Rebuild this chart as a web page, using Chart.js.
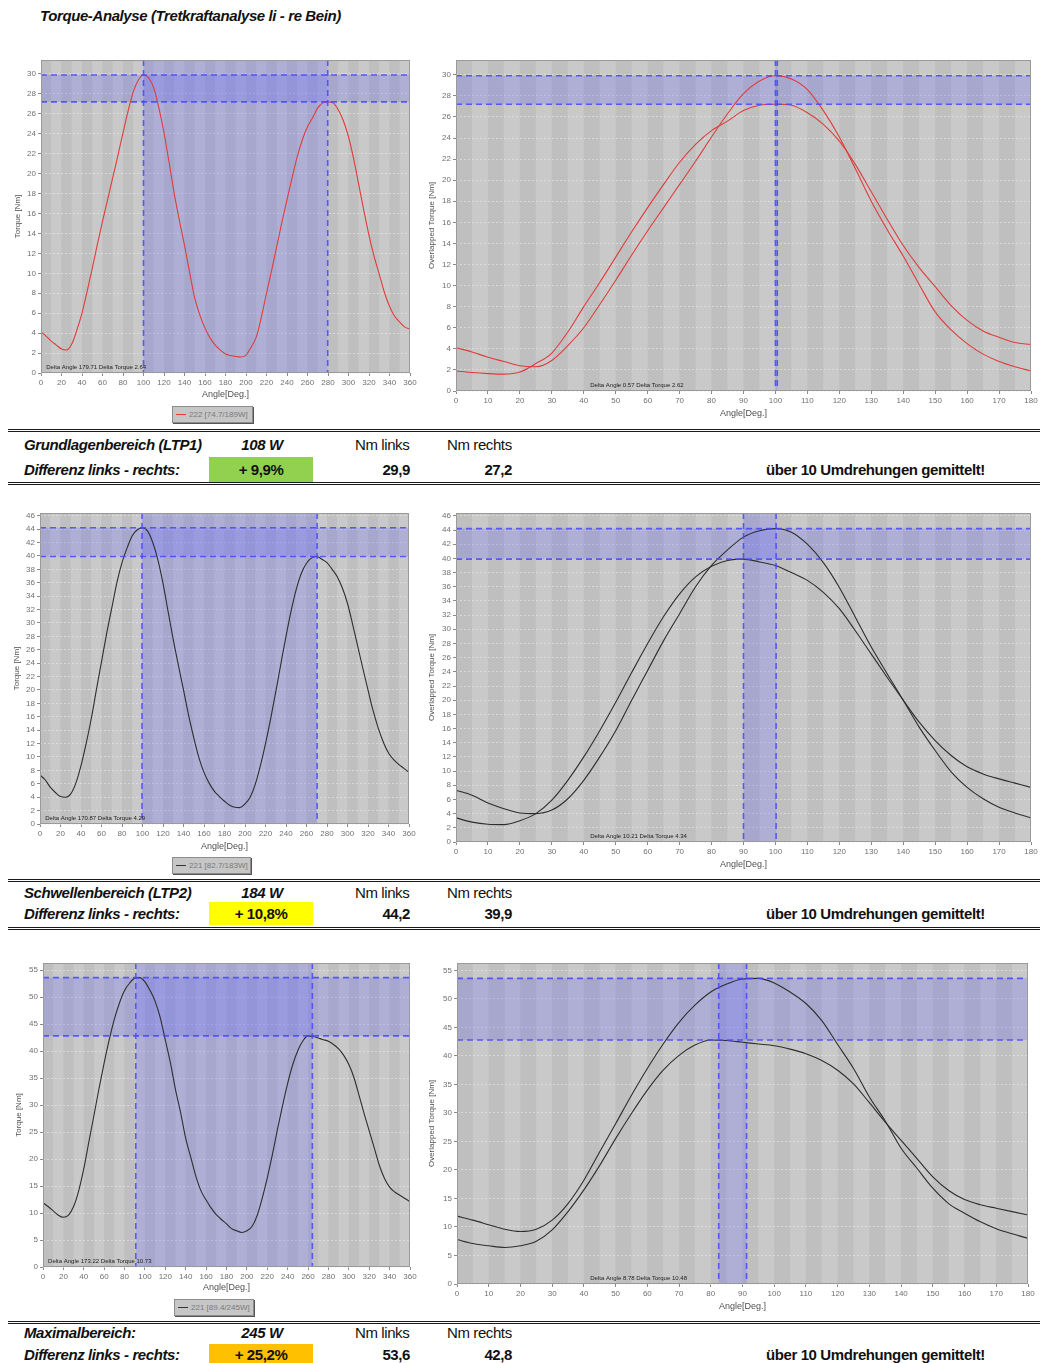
<!DOCTYPE html>
<html>
<head>
<meta charset="utf-8">
<script src="https://cdn.jsdelivr.net/npm/chart.js@4.4.1/dist/chart.umd.min.js"></script>
<style>
  body { margin: 0; background: #fff; width: 1040px; height: 1363px; position: relative; overflow: hidden;
         font-family: "Liberation Sans Narrow", "Liberation Sans", Arial, sans-serif; }
  canvas { position: absolute; }
  .t { position: absolute; white-space: nowrap; font-size: 15px; line-height: 20px; color: #111; letter-spacing: -0.4px; }
  .bi { font-weight: bold; font-style: italic; }
  .b { font-weight: bold; }
  .r { text-align: right; width: 70px; }
  .c { text-align: center; width: 100px; }
  .rule { position: absolute; left: 8px; width: 1032px; height: 0; border-top: 3px double #1a1a1a; }
  .box { position: absolute; left: 209px; width: 104px; text-align: center; font-weight: bold; font-size: 15px; color: #111; letter-spacing: -0.4px; }
  .lg { position: absolute; height: 15px; line-height: 15px; background: #c6c6c6; border: 1px solid #8c8c8c;
        box-shadow: 1px 1px 0 #555; font-family: "Liberation Sans", Arial, sans-serif; font-size: 8px; color: #7a7a7a;
        padding-left: 3px; box-sizing: content-box; white-space: nowrap; overflow: hidden; }
  .lg span { display: inline-block; width: 10px; height: 1px; vertical-align: middle; margin-right: 3px; }
</style>
</head>
<body>
<div class="t bi" style="left:40px;top:6px;">Torque-Analyse (Tretkraftanalyse li - re Bein)</div>

<div class="lg" style="left:172px;top:406px;width:76px;"><span style="background:#e03c3c"></span>222 [74.7/189W]</div>
<div class="lg" style="left:172px;top:857px;width:74px;"><span style="background:#333"></span>221 [82.7/183W]</div>
<div class="lg" style="left:174px;top:1299px;width:75px;"><span style="background:#333"></span>221 [89.4/245W]</div>

<!-- LTP1 -->
<div class="rule" style="top:429px;"></div>
<div class="t bi" style="left:24px;top:435px;">Grundlagenbereich (LTP1)</div>
<div class="t bi c" style="left:212px;top:435px;">108 W</div>
<div class="t" style="left:355px;top:435px;">Nm links</div>
<div class="t" style="left:447px;top:435px;">Nm rechts</div>
<div class="t bi" style="left:24px;top:460px;">Differenz links - rechts:</div>
<div class="box" style="top:457px;height:25px;line-height:25px;background:#92d050;">+ 9,9%</div>
<div class="t b r" style="left:340px;top:460px;">29,9</div>
<div class="t b r" style="left:442px;top:460px;">27,2</div>
<div class="t b" style="left:766px;top:460px;">über 10 Umdrehungen gemittelt!</div>
<div class="rule" style="top:482px;"></div>

<!-- LTP2 -->
<div class="rule" style="top:879px;"></div>
<div class="t bi" style="left:24px;top:883px;">Schwellenbereich (LTP2)</div>
<div class="t bi c" style="left:212px;top:883px;">184 W</div>
<div class="t" style="left:355px;top:883px;">Nm links</div>
<div class="t" style="left:447px;top:883px;">Nm rechts</div>
<div class="t bi" style="left:24px;top:904px;">Differenz links - rechts:</div>
<div class="box" style="top:902px;height:23px;line-height:23px;background:#ffff00;">+ 10,8%</div>
<div class="t b r" style="left:340px;top:904px;">44,2</div>
<div class="t b r" style="left:442px;top:904px;">39,9</div>
<div class="t b" style="left:766px;top:904px;">über 10 Umdrehungen gemittelt!</div>
<div class="rule" style="top:927px;"></div>

<!-- Max -->
<div class="rule" style="top:1321px;"></div>
<div class="t bi" style="left:24px;top:1323px;">Maximalbereich:</div>
<div class="t bi c" style="left:212px;top:1323px;">245 W</div>
<div class="t" style="left:355px;top:1323px;">Nm links</div>
<div class="t" style="left:447px;top:1323px;">Nm rechts</div>
<div class="t bi" style="left:24px;top:1345px;">Differenz links - rechts:</div>
<div class="box" style="top:1344px;height:22px;line-height:22px;background:#ffc000;">+ 25,2%</div>
<div class="t b r" style="left:340px;top:1345px;">53,6</div>
<div class="t b r" style="left:442px;top:1345px;">42,8</div>
<div class="t b" style="left:766px;top:1345px;">über 10 Umdrehungen gemittelt!</div>

<script>
// crank angle samples: half revolution (overlapped charts) and full revolution
const angleHalf = [0, 5, 10, 15, 20, 25, 30, 35, 40, 45, 50, 55, 60, 65, 70, 75, 80, 85, 90, 95, 100,
  105, 110, 115, 120, 125, 130, 135, 140, 145, 150, 155, 160, 165, 170, 175, 180];
const angleFull = [0, 5, 10, 15, 20, 25, 30, 35, 40, 45, 50, 55, 60, 65, 70, 75, 80, 85, 90, 95, 100,
  105, 110, 115, 120, 125, 130, 135, 140, 145, 150, 155, 160, 165, 170, 175, 180, 185, 190, 195, 200,
  205, 210, 215, 220, 225, 230, 235, 240, 245, 250, 255, 260, 265, 270, 275, 280, 285, 290, 295, 300,
  305, 310, 315, 320, 325, 330, 335, 340, 345, 350, 355, 360];

// torque [Nm], left leg = 0..180 deg, right leg = 180..360 deg
const ltp1Links = [4.1, 3.7, 3.2, 2.8, 2.4, 2.3, 2.9, 4.3, 6.0, 8.2, 10.5, 12.9, 15.2, 17.4, 19.6, 21.8, 24.1,
  26.3, 28.2, 29.4, 29.9, 29.6, 28.6, 26.6, 24.1, 21.1, 18.0, 15.3, 12.8, 10.1, 7.5, 5.8, 4.5, 3.5, 2.8, 2.3, 1.9];
const ltp1Rechts = [1.9, 1.75, 1.65, 1.6, 1.8, 2.6, 3.6, 5.6, 8.0, 10.3, 12.7, 15.1, 17.4, 19.6, 21.7, 23.4, 24.7,
  25.6, 26.6, 27.1, 27.2, 27.1, 26.4, 25.3, 23.7, 21.5, 18.9, 16.3, 13.8, 11.7, 9.9, 8.1, 6.7, 5.7, 5.1, 4.6, 4.4];

const ltp2Links = [7.3, 6.6, 5.5, 4.7, 4.1, 4.0, 4.5, 6.1, 8.7, 12.0, 15.7, 20.0, 24.2, 28.4, 32.2, 36.0, 39.0,
  41.2, 43.0, 43.9, 44.2, 43.7, 42.0, 39.4, 35.9, 31.7, 27.5, 23.7, 20.0, 16.2, 12.9, 9.9, 7.7, 6.1, 4.9, 4.1, 3.4];
const ltp2Rechts = [3.4, 2.8, 2.5, 2.45, 3.0, 4.0, 5.9, 8.7, 12.0, 15.7, 19.7, 23.9, 28.0, 31.8, 35.0, 37.4, 38.9,
  39.7, 39.9, 39.5, 39.0, 38.0, 36.9, 35.2, 32.9, 29.8, 26.5, 23.2, 20.0, 16.9, 14.3, 12.2, 10.6, 9.6, 8.9, 8.3, 7.7];

const maxLinks = [11.9, 11.2, 10.4, 9.6, 9.2, 9.6, 11.2, 14.1, 18.2, 23.2, 28.1, 33.1, 37.8, 42.1, 45.9, 48.9, 51.2,
  52.6, 53.5, 53.6, 52.8, 51.2, 49.2, 46.2, 42.0, 37.8, 32.8, 28.6, 23.8, 20.3, 16.8, 14.1, 12.4, 10.9, 9.7, 8.8, 8.0];
const maxRechts = [7.8, 7.1, 6.7, 6.4, 6.7, 7.5, 9.5, 12.7, 16.5, 20.8, 25.5, 29.9, 34.0, 37.5, 40.1, 41.9, 42.8,
  42.7, 42.4, 42.1, 41.8, 41.2, 40.4, 39.2, 37.5, 35.1, 31.8, 28.4, 25.2, 22.0, 18.8, 16.4, 14.8, 13.9, 13.3, 12.7, 12.1];

// peak torque (links, rechts) and the marker angles
const ltp1Peaks = [29.9, 27.2];
const ltp1PeakAngles = [100, 279.71];
const ltp1OverlapAngles = [100, 100.57];
const ltp2Peaks = [44.2, 39.9];
const ltp2PeakAngles = [99.5, 270.37];
const ltp2OverlapAngles = [90, 100.21];
const maxPeaks = [53.6, 42.8];
const maxPeakAngles = [91, 264.22];
const maxOverlapAngles = [82.5, 91.28];

const deltaNotes = [
  "Delta Angle 179.71 Delta Torque 2.64", "Delta Angle 0.57 Delta Torque 2.62",
  "Delta Angle 170.87 Delta Torque 4.29", "Delta Angle 10.21 Delta Torque 4.34",
  "Delta Angle 173.22 Delta Torque 10.73", "Delta Angle 8.78 Delta Torque 10.48",
];

const PAD_TOP = 10;
const PAD_RIGHT = 9;

const torqueBands = {
  id: "torqueBands",
  beforeDraw(chart, args, o) {
    const { ctx, chartArea: a, scales: { x } } = chart;
    ctx.save();
    ctx.fillStyle = "#c4c4c4";
    ctx.fillRect(a.left, a.top, a.width, a.height);
    for (let v = 0, i = 0; v < x.max; v += o.stripe, i++) {
      const p0 = x.getPixelForValue(v);
      const p1 = x.getPixelForValue(Math.min(v + o.stripe, x.max));
      ctx.fillStyle = i % 2 ? "#c9c9c9" : "#bfbfbf";
      ctx.fillRect(p0, a.top, p1 - p0, a.height);
    }
    ctx.restore();
  },
  beforeDatasetsDraw(chart, args, o) {
    const { ctx, chartArea: a, scales: { x, y } } = chart;
    const yTop = y.getPixelForValue(Math.max(...o.torque));
    const yBot = y.getPixelForValue(Math.min(...o.torque));
    const xL = x.getPixelForValue(Math.min(...o.angles));
    const xR = x.getPixelForValue(Math.max(...o.angles));
    ctx.save();
    ctx.fillStyle = "rgba(80,80,255,0.22)";
    ctx.fillRect(a.left, yTop, a.width, yBot - yTop);
    if (xR - xL > 1) ctx.fillRect(xL, a.top, xR - xL, a.height);
    ctx.restore();
  },
  afterDatasetsDraw(chart, args, o) {
    const { ctx, chartArea: a, scales: { x, y } } = chart;
    ctx.save();
    ctx.strokeStyle = "rgba(70,70,255,0.85)";
    ctx.lineWidth = 1.6;
    ctx.setLineDash([6, 4]);
    o.torque.forEach((t) => {
      const py = y.getPixelForValue(t);
      ctx.beginPath(); ctx.moveTo(a.left, py); ctx.lineTo(a.right, py); ctx.stroke();
    });
    o.angles.forEach((d) => {
      const px = x.getPixelForValue(d);
      ctx.beginPath(); ctx.moveTo(px, a.top); ctx.lineTo(px, a.bottom); ctx.stroke();
    });
    ctx.setLineDash([]);
    ctx.lineWidth = 1;
    ctx.strokeStyle = "#9a9a9a";
    ctx.strokeRect(a.left + 0.5, a.top + 0.5, a.width - 1, a.height - 1);
    ctx.fillStyle = "#222";
    ctx.font = "6px 'Liberation Sans', Arial, sans-serif";
    ctx.textBaseline = "bottom";
    ctx.fillText(o.note, x.getPixelForValue(o.noteAt), a.bottom - 3);
    ctx.restore();
  },
};

function torqueChart(plot, axisW, axisH, cfg) {
  const c = document.createElement("canvas");
  const w = axisW + plot.w + PAD_RIGHT;
  const h = PAD_TOP + plot.h + axisH;
  c.width = w; c.height = h;
  c.style.left = plot.x - axisW + "px";
  c.style.top = plot.y - PAD_TOP + "px";
  c.style.width = w + "px"; c.style.height = h + "px";
  document.body.appendChild(c);

  const tickFont = { family: "'Liberation Sans', Arial, sans-serif", size: 8 };
  return new Chart(c, {
    type: "line",
    data: {
      datasets: cfg.series.map((s) => ({
        data: s,
        borderColor: cfg.color,
        borderWidth: 1.1,
        pointRadius: 0,
        cubicInterpolationMode: "monotone",
        fill: false,
      })),
    },
    options: {
      responsive: false,
      animation: false,
      devicePixelRatio: 1,
      layout: { padding: { top: PAD_TOP, right: PAD_RIGHT, left: 0, bottom: 0 } },
      plugins: {
        legend: { display: false },
        tooltip: { enabled: false },
        torqueBands: {
          stripe: cfg.xMax / 36,
          torque: cfg.torque,
          angles: cfg.angles,
          note: cfg.note,
          noteAt: cfg.noteAt,
        },
      },
      scales: {
        x: {
          type: "linear",
          min: 0,
          max: cfg.xMax,
          afterFit: (s) => { s.height = axisH; },
          ticks: { stepSize: cfg.xMax / 18, color: "#707070", font: tickFont, padding: 2, maxRotation: 0, autoSkip: false, includeBounds: false },
          grid: { color: "rgba(0,0,0,0)", tickColor: "#8a8a8a", tickLength: 3 },
          border: { display: false },
          title: { display: true, text: "Angle[Deg.]", color: "#505050", font: { family: tickFont.family, size: 9 }, padding: { top: 0, bottom: 2 } },
        },
        y: {
          min: 0,
          max: cfg.yMax,
          afterFit: (s) => { s.width = axisW; },
          ticks: { stepSize: cfg.yStep, color: "#707070", font: tickFont, padding: 2, includeBounds: false },
          grid: { color: "rgba(236,236,236,0.55)", tickColor: "#8a8a8a", tickLength: 3 },
          border: { display: false, dash: [2, 2] },
          title: { display: true, text: cfg.yTitle, color: "#505050", font: { family: tickFont.family, size: 8 }, padding: { top: 2, bottom: 0 } },
        },
      },
    },
    plugins: [torqueBands],
  });
}

function fullRev(links, rechts) {
  const full = links.concat(rechts.slice(1));
  return angleFull.map((a, i) => ({ x: a, y: full[i] }));
}
function halfRev(leg) {
  return angleHalf.map((a, i) => ({ x: a, y: leg[i] }));
}

const rows = [
  { links: ltp1Links, rechts: ltp1Rechts, peaks: ltp1Peaks, peakAngles: ltp1PeakAngles, overlap: ltp1OverlapAngles,
    color: "#e03c3c", yMax: 31.4, yStep: 2,
    left: { x: 41, y: 60, w: 369, h: 313, aw: 30, ah: 29 }, right: { x: 456, y: 60, w: 575, h: 331, aw: 31, ah: 30 } },
  { links: ltp2Links, rechts: ltp2Rechts, peaks: ltp2Peaks, peakAngles: ltp2PeakAngles, overlap: ltp2OverlapAngles,
    color: "#2e2e2e", yMax: 46.4, yStep: 2,
    left: { x: 40, y: 513, w: 369, h: 311, aw: 30, ah: 30 }, right: { x: 456, y: 513, w: 575, h: 329, aw: 31, ah: 30 } },
  { links: maxLinks, rechts: maxRechts, peaks: maxPeaks, peakAngles: maxPeakAngles, overlap: maxOverlapAngles,
    color: "#2e2e2e", yMax: 56.3, yStep: 5,
    left: { x: 43, y: 963, w: 367, h: 304, aw: 31, ah: 28 }, right: { x: 457, y: 963, w: 571, h: 321, aw: 32, ah: 30 } },
];

rows.forEach((r, i) => {
  torqueChart(r.left, r.left.aw, r.left.ah, {
    series: [fullRev(r.links, r.rechts)],
    color: r.color, xMax: 360, yMax: r.yMax, yStep: r.yStep, yTitle: "Torque [Nm]",
    torque: r.peaks, angles: r.peakAngles, note: deltaNotes[i * 2], noteAt: 5,
  });
  torqueChart(r.right, r.right.aw, r.right.ah, {
    series: [halfRev(r.links), halfRev(r.rechts)],
    color: r.color, xMax: 180, yMax: r.yMax, yStep: r.yStep, yTitle: "Overlapped Torque [Nm]",
    torque: r.peaks, angles: r.overlap, note: deltaNotes[i * 2 + 1], noteAt: 42,
  });
});
</script>
</body>
</html>
